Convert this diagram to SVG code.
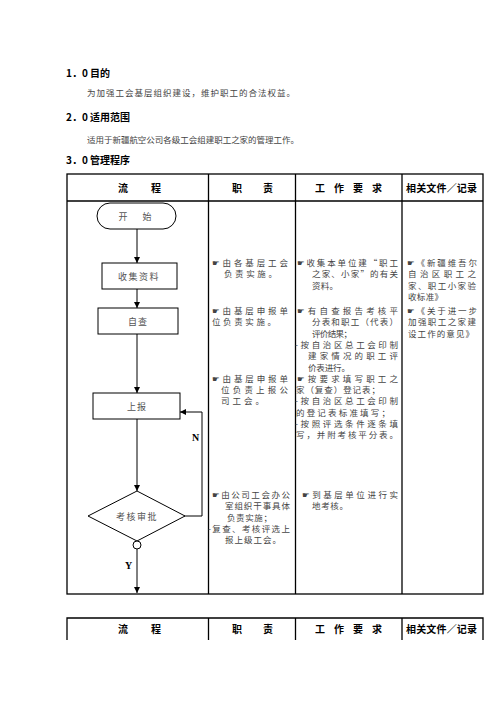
<svg xmlns="http://www.w3.org/2000/svg" width="496" height="702" viewBox="0 0 496 702">
<defs>
<marker id="arr" markerUnits="userSpaceOnUse" markerWidth="6" markerHeight="6" refX="6" refY="3" orient="auto"><path d="M0,0 L6,3 L0,6 z" fill="#000"/></marker>
<style>
.h{font-family:"Noto Sans CJK SC","DejaVu Sans",sans-serif;font-weight:bold;font-size:10px;fill:#000}
.t{font-family:"Noto Sans CJK SC","DejaVu Sans",sans-serif;font-size:8.5px;fill:#444}
.b{font-family:"Noto Sans CJK SC","DejaVu Sans",sans-serif;font-size:9px;fill:#555}
.yn{font-family:"Liberation Serif",serif;font-weight:bold;font-size:10px;fill:#000}
.grid{stroke:#000;stroke-width:1.3;fill:none}
.shape{stroke:#000;stroke-width:1;fill:#fff}
.conn{stroke:#000;stroke-width:1;fill:none}
</style>
</defs>
<rect width="496" height="702" fill="#fff"/>
<g id="intro">
<text class="h" x="66" y="77">1．0 目的</text>
<text class="t" x="87" y="96" textLength="208" lengthAdjust="spacing">为加强工会基层组织建设，维护职工的合法权益。</text>
<text class="h" x="66" y="121">2．0 适用范围</text>
<text class="t" x="87" y="143" textLength="212" lengthAdjust="spacing">适用于新疆航空公司各级工会组建职工之家的管理工作。</text>
<text class="h" x="66" y="164">3．0 管理程序</text>
</g>
<g id="table">
<rect class="grid" x="67" y="174" width="416" height="420"/>
<line class="grid" x1="67" y1="201" x2="483" y2="201"/>
<line class="grid" x1="208.5" y1="174" x2="208.5" y2="594"/>
<line class="grid" x1="295.5" y1="174" x2="295.5" y2="594"/>
<line class="grid" x1="402" y1="174" x2="402" y2="594"/>
<text class="h" x="118" y="192" textLength="43" lengthAdjust="spacing">流　　程</text>
<text class="h" x="232" y="192" textLength="41" lengthAdjust="spacing">职　　责</text>
<text class="h" x="315" y="192" textLength="67" lengthAdjust="spacing">工　作　要　求</text>
<text class="h" x="406" y="192" textLength="71" lengthAdjust="spacing">相关文件／记录</text>
</g>
<g id="table2">
<path class="grid" d="M67,640 V618 H483 V640 M208.5,618 V640 M295.5,618 V640 M402,618 V640"/>
<text class="h" x="118" y="633" textLength="43" lengthAdjust="spacing">流　　程</text>
<text class="h" x="232" y="633" textLength="41" lengthAdjust="spacing">职　　责</text>
<text class="h" x="315" y="633" textLength="67" lengthAdjust="spacing">工　作　要　求</text>
<text class="h" x="406" y="633" textLength="71" lengthAdjust="spacing">相关文件／记录</text>
</g>
<g id="connectors">
<line class="conn" x1="137" y1="229" x2="137" y2="263" marker-end="url(#arr)"/>
<line class="conn" x1="137" y1="289" x2="137" y2="308" marker-end="url(#arr)"/>
<line class="conn" x1="137" y1="334" x2="137" y2="393" marker-end="url(#arr)"/>
<line class="conn" x1="137" y1="419" x2="137" y2="491" marker-end="url(#arr)"/>
<line class="conn" x1="137" y1="549" x2="137" y2="593" marker-end="url(#arr)"/>
<polyline class="conn" points="184,516 202,516 202,412 180,412" marker-end="url(#arr)"/>
<text class="yn" x="192" y="441">N</text>
<text class="yn" x="125" y="569">Y</text>
</g>
<g id="start">
<rect class="shape" x="97" y="203" width="79" height="26" rx="13"/>
<text class="b" x="136.5" y="219.5" text-anchor="middle" letter-spacing="3">开　始</text>
</g>
<g id="collect">
<rect class="shape" x="102" y="263" width="75" height="26"/>
<text class="b" x="139" y="279.5" text-anchor="middle" letter-spacing="1.5">收集资料</text>
</g>
<g id="selfcheck">
<rect class="shape" x="98" y="308" width="80" height="26"/>
<text class="b" x="138" y="324.5" text-anchor="middle" letter-spacing="1">自查</text>
</g>
<g id="report">
<rect class="shape" x="93" y="393" width="87" height="26"/>
<text class="b" x="137" y="409.5" text-anchor="middle" letter-spacing="1">上报</text>
</g>
<g id="approve">
<polygon class="shape" points="137,491 185,516 137,541 88,516"/>
<text class="b" x="137" y="519.5" text-anchor="middle" letter-spacing="1.5">考核审批</text>
<circle class="shape" cx="137" cy="545" r="4"/>
</g>
<g id="duty">
<text class="t" x="212" y="266" textLength="76" lengthAdjust="spacing">☛由各基层工会</text>
<text class="t" x="224" y="277.3" textLength="53" lengthAdjust="spacing">负责实施。</text>
<text class="t" x="212" y="314" textLength="76" lengthAdjust="spacing">☛由基层申报单</text>
<text class="t" x="212" y="325.3" textLength="64" lengthAdjust="spacing">位负责实施。</text>
<text class="t" x="212" y="381.8" textLength="76" lengthAdjust="spacing">☛由基层申报单</text>
<text class="t" x="221" y="393.1" textLength="67" lengthAdjust="spacing">位负责上报公</text>
<text class="t" x="221" y="404.4" textLength="43" lengthAdjust="spacing">司工会。</text>
<text class="t" x="212" y="498" textLength="78" lengthAdjust="spacing">☛由公司工会办公</text>
<text class="t" x="225" y="509.3" textLength="65" lengthAdjust="spacing">室组织干事具体</text>
<text class="t" x="227" y="520.6" textLength="45" lengthAdjust="spacing">负责实施；</text>
<text class="t" x="208" y="531.9" textLength="82" lengthAdjust="spacing">-复查、考核评选上</text>
<text class="t" x="225" y="543.2" textLength="56" lengthAdjust="spacing">报上级工会。</text>
</g>
<g id="requirements">
<text class="t" x="297" y="266" textLength="101" lengthAdjust="spacing">☛收集本单位建“职工</text>
<text class="t" x="312" y="277.3" textLength="86" lengthAdjust="spacing">之家、小家”的有关</text>
<text class="t" x="312" y="288.6" textLength="26" lengthAdjust="spacing">资料。</text>
<text class="t" x="297" y="314" textLength="101" lengthAdjust="spacing">☛有自查报告考核平</text>
<text class="t" x="312" y="325.3" textLength="86" lengthAdjust="spacing">分表和职工（代表）</text>
<text class="t" x="312" y="336.6" textLength="40" lengthAdjust="spacing">评价结果；</text>
<text class="t" x="295" y="347.9" textLength="103" lengthAdjust="spacing">-按自治区总工会印制</text>
<text class="t" x="308" y="359.2" textLength="90" lengthAdjust="spacing">建家情况的职工评</text>
<text class="t" x="308" y="370.5" textLength="42" lengthAdjust="spacing">价表进行。</text>
<text class="t" x="297" y="381.8" textLength="101" lengthAdjust="spacing">☛按要求填写职工之</text>
<text class="t" x="296" y="393.1" textLength="84" lengthAdjust="spacing">家（复查）登记表；</text>
<text class="t" x="295" y="404.4" textLength="103" lengthAdjust="spacing">-按自治区总工会印制</text>
<text class="t" x="296" y="415.7" textLength="94" lengthAdjust="spacing">的登记表标准填写；</text>
<text class="t" x="295" y="427" textLength="103" lengthAdjust="spacing">-按照评选条件逐条填</text>
<text class="t" x="296" y="438.3" textLength="102" lengthAdjust="spacing">写，并附考核平分表。</text>
<text class="t" x="302" y="498" textLength="96" lengthAdjust="spacing">☛到基层单位进行实</text>
<text class="t" x="312" y="509.3" textLength="36" lengthAdjust="spacing">地考核。</text>
</g>
<g id="documents">
<text class="t" x="407" y="266" textLength="70" lengthAdjust="spacing">☛《新疆维吾尔</text>
<text class="t" x="408" y="277.3" textLength="68" lengthAdjust="spacing">自治区职工之</text>
<text class="t" x="408" y="288.6" textLength="68" lengthAdjust="spacing">家、职工小家验</text>
<text class="t" x="408" y="299.9" textLength="35" lengthAdjust="spacing">收标准》</text>
<text class="t" x="407" y="314" textLength="70" lengthAdjust="spacing">☛《关于进一步</text>
<text class="t" x="408" y="325.3" textLength="68" lengthAdjust="spacing">加强职工之家建</text>
<text class="t" x="408" y="336.6" textLength="66" lengthAdjust="spacing">设工作的意见》</text>
</g>
</svg>
